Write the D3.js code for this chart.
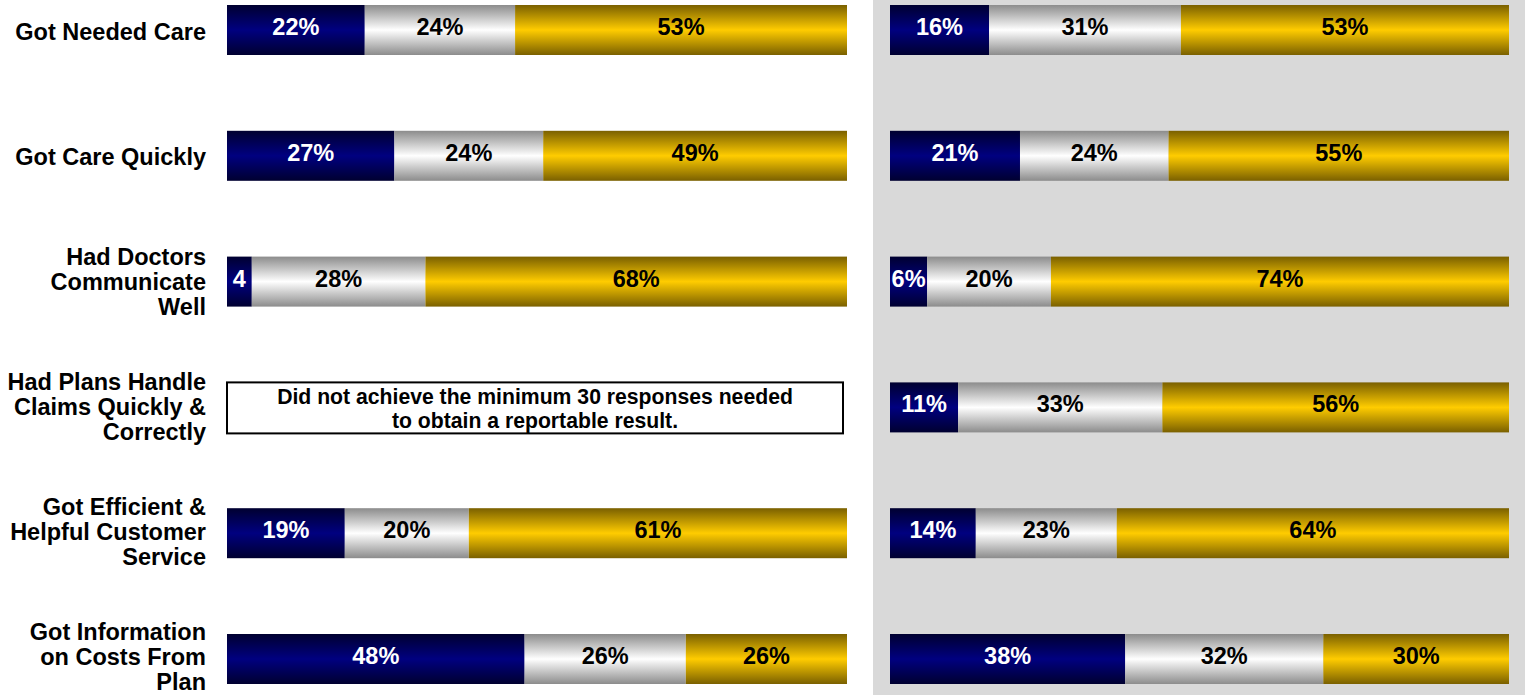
<!DOCTYPE html>
<html><head><meta charset="utf-8">
<script src="https://cdn.jsdelivr.net/npm/d3@7"></script>
<style>body{margin:0;background:#fff;}svg{display:block;font-family:"Liberation Sans",Arial,sans-serif;}</style>
</head><body>
<svg id="c" width="1525" height="695"></svg>
<script>
const categories = [
  ["Got Needed Care"],
  ["Got Care Quickly"],
  ["Had Doctors","Communicate","Well"],
  ["Had Plans Handle","Claims Quickly &","Correctly"],
  ["Got Efficient &","Helpful Customer","Service"],
  ["Got Information","on Costs From","Plan"]
];
const seriesNames = ["Low", "Mid", "High"];
// left panel (null = not reportable)
const leftValues = [
  [22,24,53],
  [27,24,49],
  [4,28,68],
  null,
  [19,20,61],
  [48,26,26]
];
const rightValues = [
  [16,31,53],
  [21,24,55],
  [6,20,74],
  [11,33,56],
  [14,23,64],
  [38,32,30]
];
const noteLines = ["Did not achieve the minimum 30 responses needed","to obtain a reportable result."];

const svg = d3.select("#c");
const W = 1525, H = 695;
const defs = svg.append("defs");
function grad(id, edge, mid){
  const g = defs.append("linearGradient").attr("id",id).attr("x1",0).attr("y1",0).attr("x2",0).attr("y2",1);
  g.append("stop").attr("offset","0%").attr("stop-color",edge);
  g.append("stop").attr("offset","50%").attr("stop-color",mid);
  g.append("stop").attr("offset","100%").attr("stop-color",edge);
}
grad("g0","#000030","#000080");
grad("g1","#8c8c8c","#ffffff");
grad("g2","#7a6000","#ffcc00");
const fills = ["url(#g0)","url(#g1)","url(#g2)"];
const textColors = ["#ffffff","#000000","#000000"];

svg.append("rect").attr("x",873).attr("y",0).attr("width",W-873).attr("height",H).attr("fill","#d9d9d9");

const y = d3.scaleBand().domain(d3.range(categories.length)).range([5, 5+125.8*6]).paddingInner(0).paddingOuter(0);
const yLabel = d3.scaleBand().domain(d3.range(categories.length)).range([5, 5+125*6]).paddingInner(0).paddingOuter(0);
const barH = 50;
const FS = 23.5;

// category labels
categories.forEach((lines,i)=>{
  const base = yLabel(i) + 35;
  const lh = 25.3;
  const t = svg.append("text").attr("text-anchor","end").attr("font-weight","bold").attr("font-size",FS).attr("fill","#000");
  lines.forEach((l,j)=>{
    t.append("tspan").attr("x",206).attr("y", base + (j-(lines.length-1)/2)*lh).text(l);
  });
});

function panel(values, x0, x1){
  values.forEach((row,i)=>{
    const g = svg.append("g").attr("transform",`translate(0,${y(i)})`);
    if(!row){
      g.append("rect").attr("x",x0).attr("y",0).attr("width",(x1-x0)-4).attr("height",barH+1)
        .attr("fill","#fff").attr("stroke","#000").attr("stroke-width",2);
      const t = g.append("text").attr("text-anchor","middle").attr("font-weight","bold").attr("font-size",21.2);
      noteLines.forEach((l,j)=>t.append("tspan").attr("x",(x0+x1-4)/2).attr("y",21.5+j*24).text(l));
      return;
    }
    const total = d3.sum(row);
    const x = d3.scaleLinear().domain([0,total]).range([x0,x1]);
    let acc = 0;
    row.forEach((v,k)=>{
      const a = x(acc), b = x(acc+v);
      acc += v;
      g.append("rect").attr("x",a).attr("y",0).attr("width",b-a).attr("height",barH).attr("fill",fills[k]);
      const lbl = (b-a) < 30 ? String(v) : v+"%";
      g.append("text").attr("x",(a+b)/2).attr("y",30).attr("text-anchor","middle")
        .attr("font-weight","bold").attr("font-size",FS).attr("fill",textColors[k]).text(lbl);
    });
  });
}
panel(leftValues, 227, 847);
panel(rightValues, 890, 1509);
</script>
</body></html>
